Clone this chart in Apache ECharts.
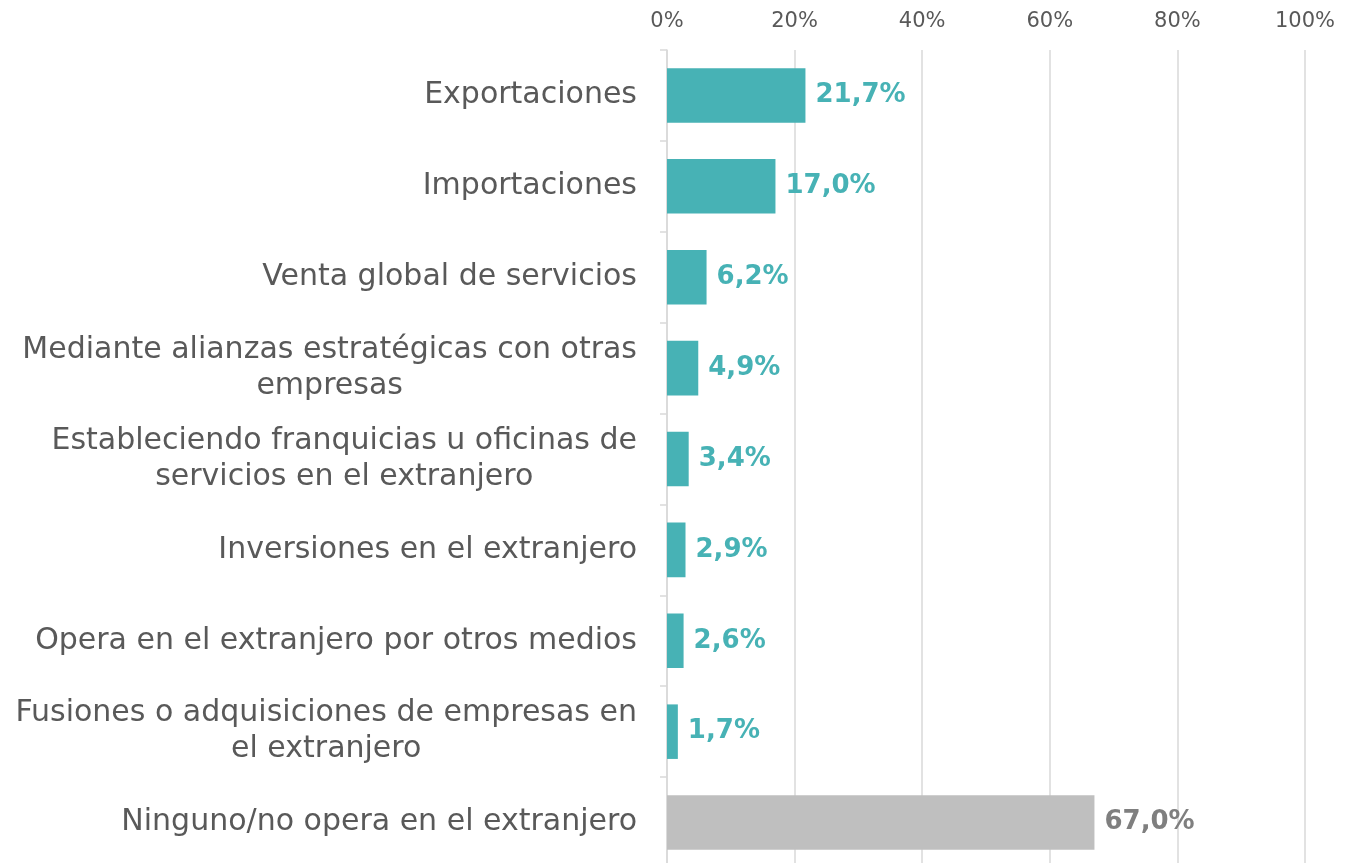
<!DOCTYPE html>
<html>
<head>
<meta charset="utf-8">
<script src="https://cdn.jsdelivr.net/npm/echarts@6/dist/echarts.min.js"></script>
<style>html,body{margin:0;padding:0;background:#fff;overflow:hidden;width:1357px;height:863px;}#c{width:1357px;height:870px;}</style>
</head>
<body>
<div id="c"></div>
<script>
const categories = [
  "Exportaciones",
  "Importaciones",
  "Venta global de servicios",
  "Mediante alianzas estratégicas con otras\nempresas",
  "Estableciendo franquicias u oficinas de\nservicios en el extranjero",
  "Inversiones en el extranjero",
  "Opera en el extranjero por otros medios",
  "Fusiones o adquisiciones de empresas en\nel extranjero",
  "Ninguno/no opera en el extranjero"
];
const values = [21.7, 17.0, 6.2, 4.9, 3.4, 2.9, 2.6, 1.7, 67.0];
const highlightIndex = 8;
const xTicks = [0, 20, 40, 60, 80, 100];

const FONT = '"DejaVu Sans", sans-serif';
const teal = '#47B2B5';
const grayBar = '#BFBFBF';
const grayLabel = '#7F7F7F';

const chart = echarts.init(document.getElementById('c'));
chart.setOption({
  animation: false,
  grid: { left: 667, right: 52, top: 50, bottom: 2, containLabel: false },
  xAxis: {
    type: 'value', position: 'top', min: xTicks[0], max: xTicks[xTicks.length - 1], interval: 20,
    axisLine: { show: false }, axisTick: { show: false },
    axisLabel: { formatter: v => v + '%', color: '#595959', fontSize: 21, fontFamily: FONT, margin: 18 },
    splitLine: { lineStyle: { color: '#D9D9D9', width: 1.5 } }
  },
  yAxis: {
    type: 'category', inverse: true, data: categories,
    axisLine: { show: true, lineStyle: { color: '#D9D9D9', width: 1.5 } },
    axisTick: { show: true, length: 7, lineStyle: { color: '#D9D9D9', width: 1.5 } },
    axisLabel: {
      margin: 30,
      formatter: v => '{c|' + v + '}',
      rich: { c: { align: 'center', fontSize: 30, lineHeight: 36, color: '#595959', fontFamily: FONT } }
    }
  },
  series: [{
    type: 'bar', barWidth: '60%',
    data: values.map((v, i) => ({
      value: v,
      itemStyle: { color: i === highlightIndex ? grayBar : teal },
      label: { color: i === highlightIndex ? grayLabel : teal }
    })),
    label: {
      show: true, position: 'right', distance: 10,
      fontSize: 26, fontWeight: 'bold', fontFamily: FONT,
      formatter: p => p.value.toFixed(1).replace('.', ',') + '%'
    }
  }]
});
</script>
</body>
</html>
